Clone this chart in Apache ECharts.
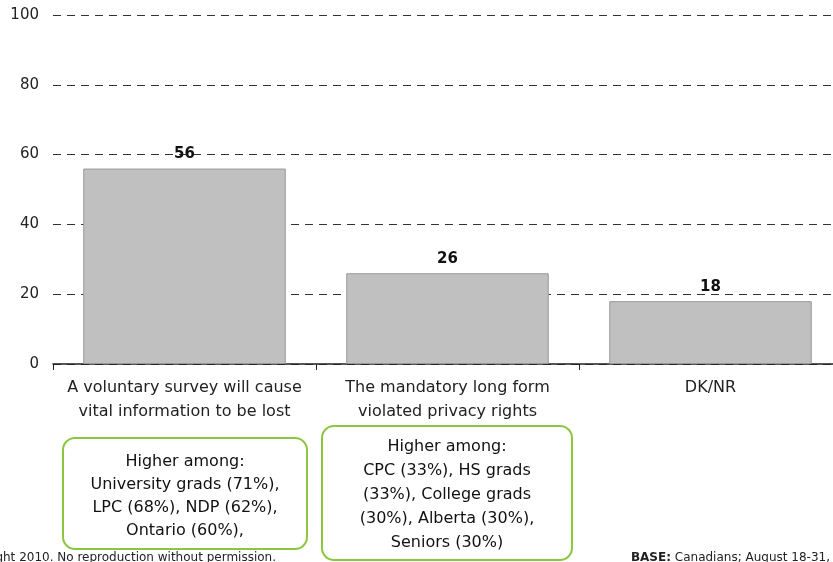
<!DOCTYPE html>
<html>
<head>
<meta charset="utf-8">
<script src="https://cdn.jsdelivr.net/npm/echarts@6/dist/echarts.min.js"></script>
<style>
  html, body { margin: 0; padding: 0; background: #fff; overflow: hidden; }
  #chart { width: 842px; height: 562px; }
</style>
</head>
<body>
<div id="chart"></div>
<script>
const categories = [
    'A voluntary survey will cause\nvital information to be lost',
    'The mandatory long form\nviolated privacy rights',
    'DK/NR'
];
const values = [56, 26, 18];
const yTicks = [0, 20, 40, 60, 80, 100];
const box1Lines = ['Higher among:', 'University grads (71%),', 'LPC (68%), NDP (62%),', 'Ontario (60%),'];
const box2Lines = ['Higher among:', 'CPC (33%), HS grads', '(33%), College grads', '(30%), Alberta (30%),', 'Seniors (30%)'];

const font = 'DejaVu Sans';
const chart = echarts.init(document.getElementById('chart'));

// the plot runs a few px past the right edge of the window, so the div is wider than the page
const option = {
    animation: false,
    textStyle: { fontFamily: font },
    grid: { left: 53, right: 0, top: 15, bottom: 198, containLabel: false },
    xAxis: {
        type: 'category',
        data: categories,
        axisLine: { lineStyle: { color: '#222', width: 1.5 } },
        axisTick: { show: true, length: 6, lineStyle: { color: '#222' } },
        axisLabel: { color: '#222', fontSize: 16, lineHeight: 24, margin: 12, interval: 0 }
    },
    yAxis: {
        type: 'value',
        min: yTicks[0],
        max: yTicks[yTicks.length - 1],
        interval: 20,
        axisLine: { show: false },
        axisTick: { show: false },
        axisLabel: { color: '#222', fontSize: 15, margin: 14 },
        splitLine: { lineStyle: { color: '#333', type: [8, 6], width: 1 } }
    },
    series: [{
        type: 'bar',
        data: values,
        barCategoryGap: '23%',
        itemStyle: { color: '#c0c0c0', borderColor: '#999', borderWidth: 1 },
        label: {
            show: true,
            position: 'top',
            distance: 7,
            color: '#111',
            fontWeight: 'bold',
            fontSize: 15
        }
    }],
    graphic: [
        {
            type: 'rect',
            shape: { x: 63, y: 438, width: 244, height: 111, r: 12 },
            style: { fill: '#fff', stroke: '#8cc63f', lineWidth: 2 }
        },
        {
            type: 'text',
            x: 185, y: 496,
            style: {
                text: box1Lines.join('\n'),
                fontFamily: font,
                fontSize: 16,
                lineHeight: 23,
                fill: '#111',
                align: 'center',
                verticalAlign: 'middle'
            }
        },
        {
            type: 'rect',
            shape: { x: 322, y: 426, width: 250, height: 134, r: 12 },
            style: { fill: '#fff', stroke: '#8cc63f', lineWidth: 2 }
        },
        {
            type: 'text',
            x: 447, y: 495,
            style: {
                text: box2Lines.join('\n'),
                fontFamily: font,
                fontSize: 16,
                lineHeight: 24,
                fill: '#111',
                align: 'center',
                verticalAlign: 'middle'
            }
        },
        {
            type: 'text',
            x: 276, y: 558,
            style: {
                text: 'Copyright 2010. No reproduction without permission.',
                fontFamily: font,
                fontSize: 12,
                fill: '#222',
                align: 'right',
                verticalAlign: 'middle'
            }
        },
        {
            type: 'text',
            x: 830, y: 558,
            style: {
                text: '{b|BASE:} Canadians; August 18-31,',
                fontFamily: font,
                fontSize: 12,
                fill: '#222',
                align: 'right',
                verticalAlign: 'middle',
                rich: {
                    b: { fontWeight: 'bold', fontSize: 12, fontFamily: font, fill: '#222' }
                }
            }
        }
    ]
};

chart.setOption(option);
</script>
</body>
</html>
